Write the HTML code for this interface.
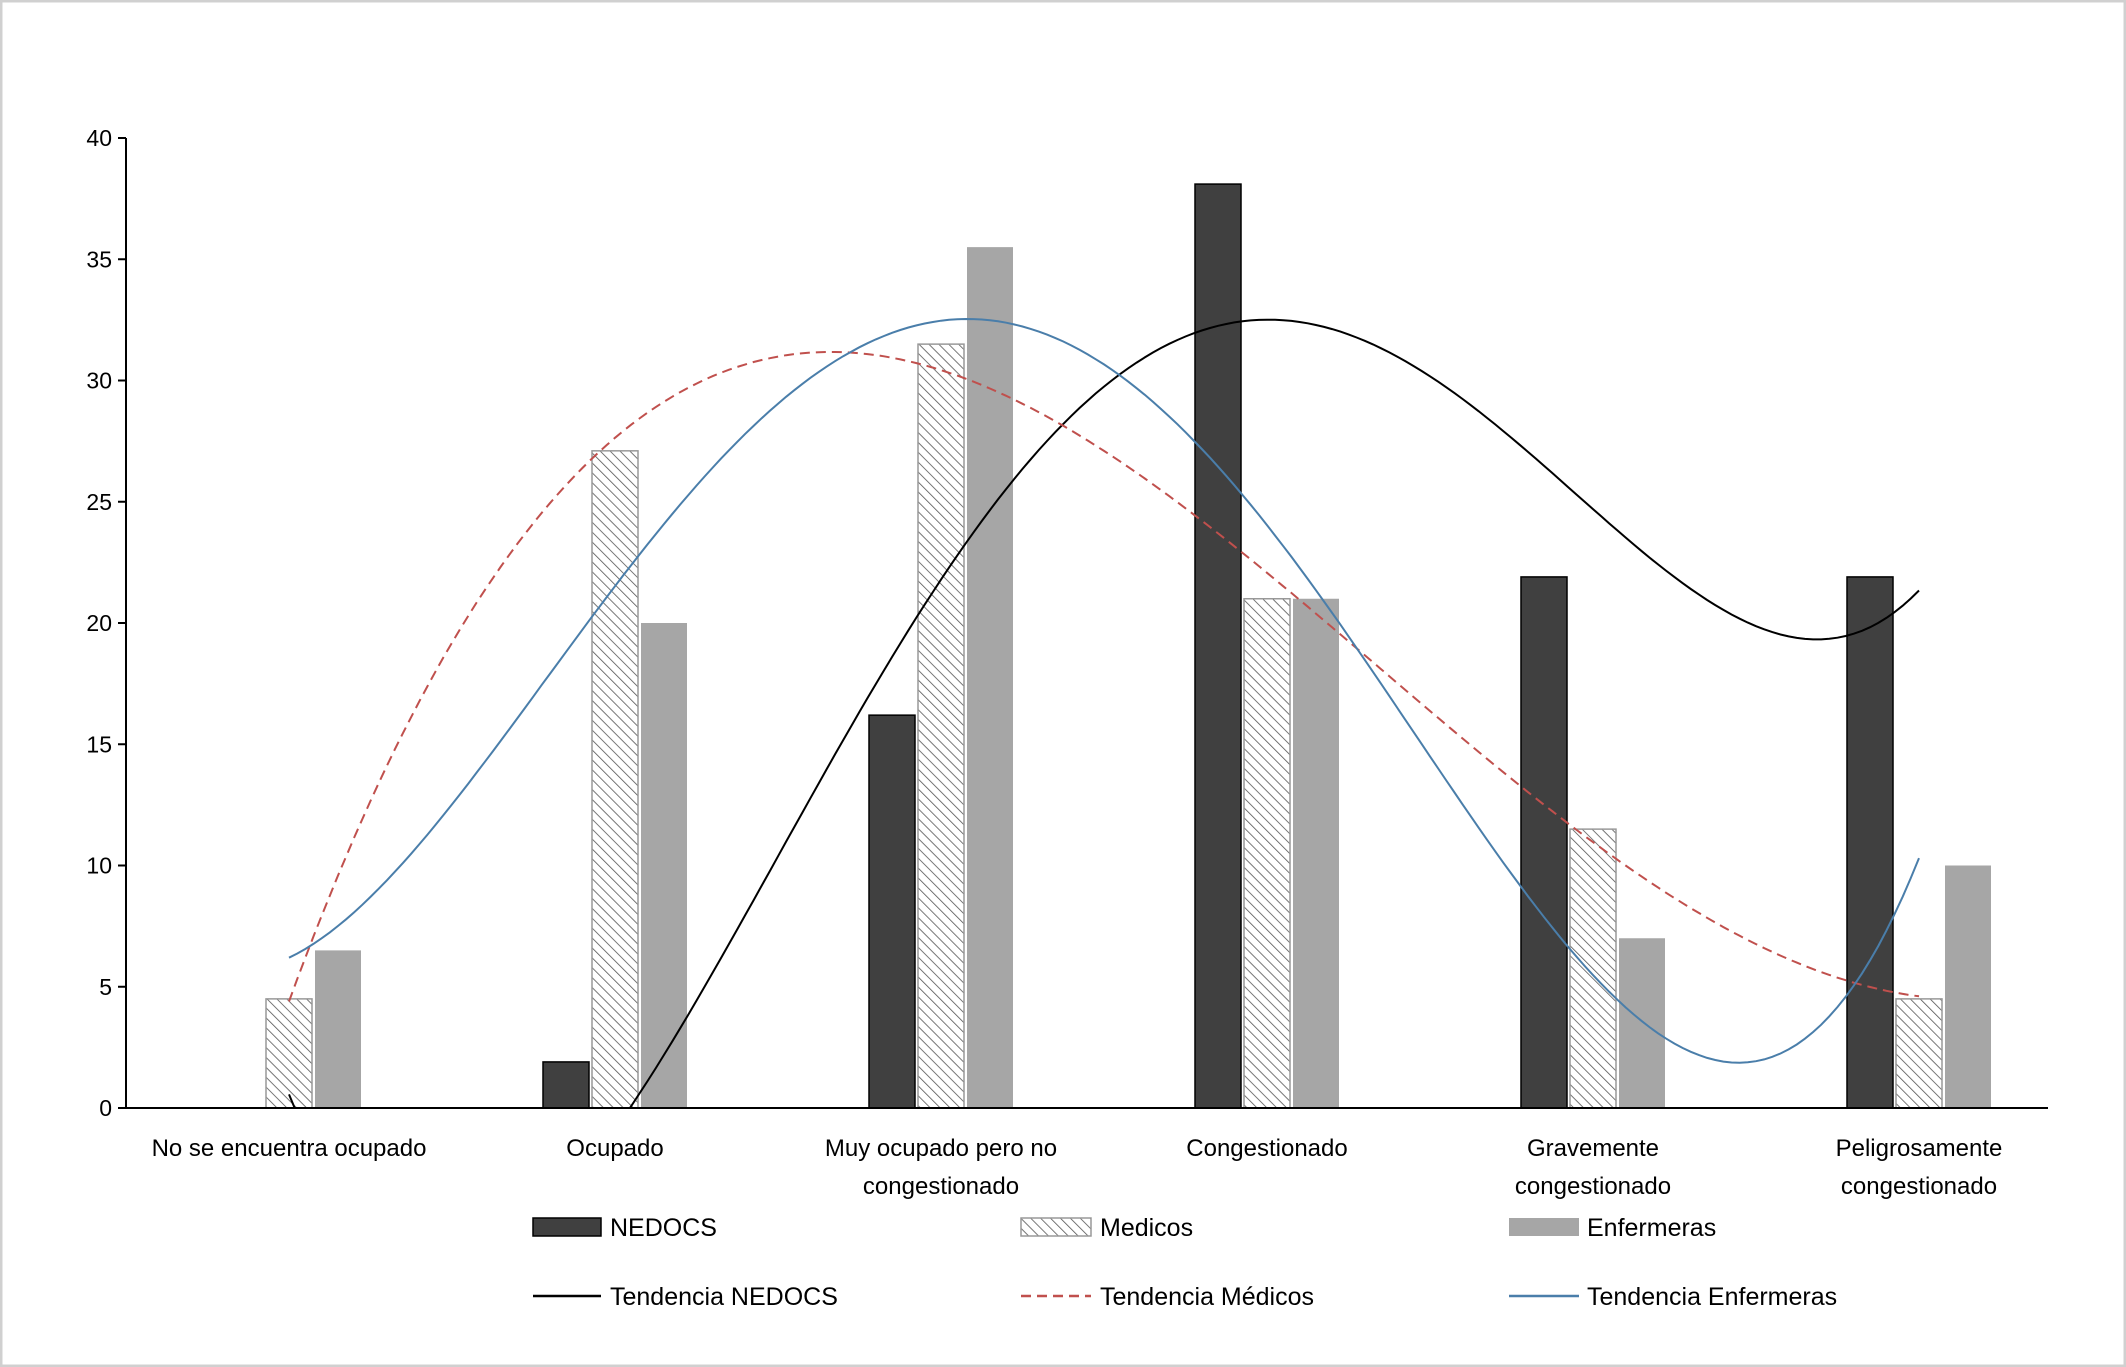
<!DOCTYPE html>
<html><head><meta charset="utf-8"><style>
html,body{margin:0;padding:0;background:#fff;}
svg{display:block;font-family:"Liberation Sans",sans-serif;}
</style></head><body>
<svg id="chart" width="2126" height="1367" viewBox="0 0 2126 1367">
<defs>
<pattern id="hatch" patternUnits="userSpaceOnUse" width="7" height="7" patternTransform="rotate(-45)">
<rect width="7" height="7" fill="#fff"/>
<line x1="0" y1="0" x2="0" y2="7" stroke="#555" stroke-width="1.6"/>
</pattern>
<pattern id="hatchL" patternUnits="userSpaceOnUse" width="7" height="7" patternTransform="rotate(-45)">
<rect width="7" height="7" fill="#fff"/>
<line x1="0" y1="0" x2="0" y2="7" stroke="#555" stroke-width="1.6"/>
</pattern>
<clipPath id="plotclip"><rect x="126" y="120" width="1970" height="988"/></clipPath>
</defs>
<rect x="1" y="1" width="2124" height="1365" fill="#fff" stroke="#d0d0d0" stroke-width="3"/>
<g id="bars"></g>
<g id="trends" clip-path="url(#plotclip)"></g>
<g id="axes"></g>
<g id="legend" font-size="25" fill="#000">
<rect x="533" y="1218" width="68" height="18" fill="#404040" stroke="#000" stroke-width="1.5"/>
<text x="610" y="1236">NEDOCS</text>
<rect x="1021" y="1218" width="70" height="18" fill="url(#hatchL)" stroke="#999" stroke-width="1.5"/>
<text x="1100" y="1236">Medicos</text>
<rect x="1509" y="1218" width="70" height="18" fill="#a6a6a6"/>
<text x="1587" y="1236">Enfermeras</text>
<line x1="533" y1="1296" x2="601" y2="1296" stroke="#000" stroke-width="2.5"/>
<text x="610" y="1305">Tendencia NEDOCS</text>
<line x1="1021" y1="1296" x2="1091" y2="1296" stroke="#c0504d" stroke-width="2.5" stroke-dasharray="10,6"/>
<text x="1100" y="1305">Tendencia Médicos</text>
<line x1="1509" y1="1296" x2="1579" y2="1296" stroke="#4a7eaa" stroke-width="2.5"/>
<text x="1587" y="1305">Tendencia Enfermeras</text>
</g>
</svg>
<script>
const categories = [["No se encuentra ocupado"],["Ocupado"],["Muy ocupado pero no","congestionado"],["Congestionado"],["Gravemente","congestionado"],["Peligrosamente","congestionado"]];
const nedocs = [0, 1.9, 16.2, 38.1, 21.9, 21.9];
const medicos = [4.5, 27.1, 31.5, 21, 11.5, 4.5];
const enfermeras = [6.5, 20, 35.5, 21, 7, 10];
const yTicks = [0,5,10,15,20,25,30,35,40];

const NS="http://www.w3.org/2000/svg";
const X0=126, Y0=1108, Ytop=138, catW=326, yMax=40;
const y = v => Y0 - (v/yMax)*(Y0-Ytop);
const xc = i => X0 + (i+0.5)*catW;
function mk(tag, attrs, parent){const e=document.createElementNS(NS,tag);for(const k in attrs)e.setAttribute(k,attrs[k]);parent.appendChild(e);return e;}
const bars=document.getElementById('bars'), trends=document.getElementById('trends'), axes=document.getElementById('axes');
const bw=46, off=49;
const series=[{d:nedocs,fill:'#404040',stroke:'#000',o:-off,n:'nedocs'},{d:medicos,fill:'url(#hatch)',stroke:'#999',o:0,n:'medicos'},{d:enfermeras,fill:'#a6a6a6',stroke:'none',o:off,n:'enfermeras'}];
series.forEach(s=>{
  s.d.forEach((v,i)=>{
    if(v<=0) return;
    const r=mk('rect',{x:xc(i)+s.o-bw/2,y:y(v),width:bw,height:Y0-y(v),fill:s.fill,stroke:s.stroke,'stroke-width':1.5},bars);
    
    
  });
});
function polyfit(ys,deg){
  const n=deg+1, A=[], b=[];
  for(let r=0;r<n;r++){A.push([]);for(let c=0;c<n;c++){let s=0;ys.forEach((_,x)=>s+=Math.pow(x,r+c));A[r].push(s);}let t=0;ys.forEach((v,x)=>t+=v*Math.pow(x,r));b.push(t);}
  for(let i=0;i<n;i++){let p=i;for(let k=i+1;k<n;k++)if(Math.abs(A[k][i])>Math.abs(A[p][i]))p=k;[A[i],A[p]]=[A[p],A[i]];[b[i],b[p]]=[b[p],b[i]];
    for(let k=i+1;k<n;k++){const f=A[k][i]/A[i][i];for(let c=i;c<n;c++)A[k][c]-=f*A[i][c];b[k]-=f*b[i];}}
  const co=new Array(n).fill(0);
  for(let i=n-1;i>=0;i--){let s=b[i];for(let c=i+1;c<n;c++)s-=A[i][c]*co[c];co[i]=s/A[i][i];}
  return co;
}
const tr=[{d:nedocs,c:'#000',dash:'',n:'trend-nedocs'},{d:medicos,c:'#c0504d',dash:'10,6',n:'trend-medicos'},{d:enfermeras,c:'#4a7eaa',dash:'',n:'trend-enfermeras'}];
tr.forEach(t=>{
  const co=polyfit(t.d,4); let pts=[];
  for(let k=0;k<=200;k++){const x=5*k/200;let v=0;co.forEach((c,p)=>v+=c*Math.pow(x,p));pts.push((X0+(x+0.5)*catW).toFixed(1)+','+y(v).toFixed(1));}
  const p=mk('polyline',{points:pts.join(' '),fill:'none',stroke:t.c,'stroke-width':2,'stroke-dasharray':t.dash},trends);
  
  
});
const ya=mk('line',{x1:X0,y1:Ytop,x2:X0,y2:Y0,stroke:'#000','stroke-width':2},axes);


const xa=mk('line',{x1:X0-8,y1:Y0,x2:2048,y2:Y0,stroke:'#000','stroke-width':2},axes);


yTicks.forEach(v=>{
  mk('line',{x1:X0-8,y1:y(v),x2:X0,y2:y(v),stroke:'#000','stroke-width':2},axes);
  const t=mk('text',{x:X0-14,y:y(v)+8,'text-anchor':'end','font-size':23},axes);
  t.textContent=v;
  
  
});
categories.forEach((lines,i)=>{
  lines.forEach((s,j)=>{
    const t=mk('text',{x:xc(i),y:1156+j*38,'text-anchor':'middle','font-size':24},axes);
    t.textContent=s;
    
    
  });
});
</script>
</body></html>
